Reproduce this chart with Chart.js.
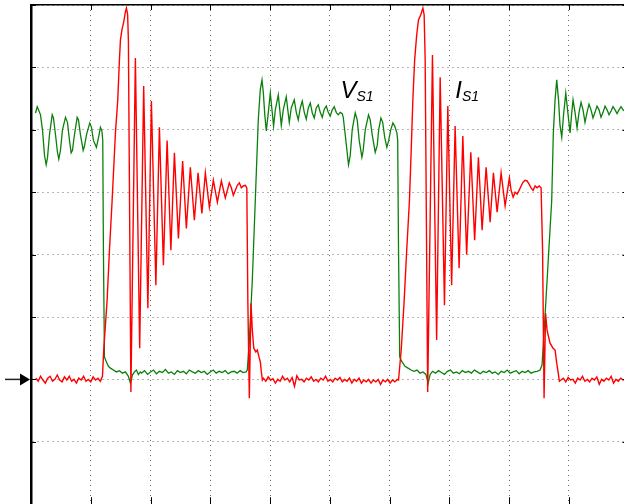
<!DOCTYPE html>
<html>
<head>
<meta charset="utf-8">
<script src="https://cdn.jsdelivr.net/npm/chart.js@4/dist/chart.umd.min.js"></script>
<style>
html,body{margin:0;padding:0;overflow:hidden;background:#fff;width:624px;height:504px;}
#wrap{position:absolute;left:0;top:0;width:640px;height:520px;}
</style>
</head>
<body>
<div id="wrap"><canvas id="c"></canvas></div>
<script>
// time in divisions (0..10), amplitude in divisions (-2..6), zero level at 0
const xGridTicks = [0,1,2,3,4,5,6,7,8,9,10];
const yGridTicks = [-2,-1,0,1,2,3,4,5,6];

// V_S1 (green)
const vS1 = [
[0.075,4.27],[0.104,4.37],[0.125,4.32],[0.159,4.24],[0.192,4.00],[0.226,3.59],[0.254,3.44],[0.276,3.55],[0.309,3.92],[0.355,4.24],[0.376,4.19],[0.410,3.92],[0.443,3.64],[0.465,3.53],[0.493,3.67],[0.527,4.00],[0.577,4.20],[0.610,4.12],[0.644,3.83],[0.672,3.63],[0.694,3.67],[0.727,3.92],[0.773,4.20],[0.794,4.16],[0.828,3.92],[0.873,3.67],[0.895,3.74],[0.928,3.92],[0.983,4.11],[1.012,4.04],[1.045,3.83],[1.095,3.72],[1.129,3.87],[1.162,4.04],[1.187,3.98],[1.201,3.83],[1.212,2.07],[1.229,0.36],
[1.262,0.28],[1.296,0.21],[1.329,0.18],[1.380,0.15],[1.430,0.12],[1.480,0.14],[1.530,0.10],[1.580,0.12],[1.630,0.05],[1.664,-0.06],[1.697,0.07],[1.731,0.12],[1.764,0.15],[1.798,0.08],[1.831,0.12],
[1.85,0.10],[1.90,0.14],[1.95,0.08],[2.00,0.12],[2.05,0.15],[2.10,0.09],[2.15,0.13],[2.20,0.11],[2.25,0.16],[2.30,0.10],[2.35,0.12],[2.40,0.08],[2.45,0.14],[2.50,0.11],[2.55,0.13],[2.60,0.09],[2.65,0.15],[2.70,0.12],[2.75,0.10],[2.80,0.14],[2.85,0.11],[2.90,0.13],[2.95,0.08],[3.00,0.12],[3.05,0.15],[3.10,0.10],[3.15,0.13],[3.20,0.11],[3.25,0.14],[3.30,0.09],[3.35,0.12],[3.40,0.13],[3.45,0.10],[3.50,0.14],[3.55,0.11],[3.60,0.12],
[3.620,0.15],[3.654,0.63],[3.704,1.59],[3.754,2.87],[3.804,4.16],[3.837,4.64],[3.866,4.80],[3.888,4.60],[3.913,4.24],[3.938,3.98],[3.972,4.28],[4.005,4.59],[4.030,4.35],[4.060,4.06],[4.089,4.32],[4.139,4.56],[4.164,4.32],[4.189,4.07],[4.222,4.32],[4.272,4.53],[4.298,4.32],[4.323,4.12],[4.356,4.35],[4.406,4.48],[4.440,4.28],[4.473,4.16],[4.507,4.35],[4.540,4.46],[4.574,4.28],[4.607,4.17],[4.641,4.35],[4.674,4.43],[4.708,4.27],[4.741,4.19],[4.774,4.35],[4.808,4.40],[4.841,4.28],[4.875,4.20],[4.908,4.33],[4.942,4.38],[4.975,4.28],[5.008,4.22],[5.042,4.32],[5.075,4.37],[5.109,4.28],[5.142,4.24],[5.176,4.28],[5.209,4.26],[5.226,4.20],
[5.259,3.92],[5.314,3.44],[5.343,3.59],[5.376,4.00],[5.426,4.27],[5.460,4.16],[5.493,3.83],[5.538,3.56],[5.560,3.67],[5.594,4.00],[5.649,4.24],[5.677,4.16],[5.711,3.92],[5.761,3.64],[5.795,3.75],[5.819,4.00],[5.856,4.19],[5.886,4.12],[5.920,3.88],[5.956,3.72],[5.987,3.83],[6.020,4.00],[6.057,4.11],[6.087,4.06],[6.124,3.95],[6.137,3.83],[6.151,2.07],[6.171,0.36],
[6.21,0.28],[6.26,0.21],[6.31,0.18],[6.36,0.15],[6.41,0.13],[6.46,0.15],[6.51,0.10],[6.56,0.12],[6.61,0.08],[6.647,-0.06],[6.68,0.08],[6.72,0.13],
[6.77,0.10],[6.82,0.14],[6.87,0.11],[6.92,0.08],[6.97,0.13],[7.02,0.15],[7.07,0.10],[7.12,0.12],[7.17,0.09],[7.22,0.14],[7.27,0.11],[7.32,0.13],[7.37,0.10],[7.42,0.15],[7.47,0.12],[7.52,0.09],[7.57,0.13],[7.62,0.11],[7.67,0.14],[7.72,0.10],[7.77,0.12],[7.82,0.08],[7.87,0.13],[7.92,0.11],[7.97,0.15],[8.02,0.10],[8.07,0.12],[8.12,0.14],[8.17,0.09],[8.22,0.13],[8.27,0.11],[8.32,0.14],[8.37,0.10],[8.42,0.12],[8.47,0.13],[8.52,0.15],
[8.553,0.23],[8.587,0.76],[8.654,1.86],[8.715,2.87],[8.742,3.95],[8.771,4.48],[8.799,4.80],[8.829,4.48],[8.854,4.07],[8.883,3.88],[8.913,4.24],[8.950,4.59],[8.980,4.32],[9.022,3.95],[9.047,4.24],[9.072,4.48],[9.105,4.28],[9.139,4.03],[9.172,4.28],[9.206,4.44],[9.239,4.32],[9.272,4.12],[9.306,4.28],[9.339,4.41],[9.373,4.32],[9.406,4.19],[9.440,4.28],[9.473,4.38],[9.507,4.32],[9.540,4.20],[9.574,4.28],[9.607,4.38],[9.641,4.32],[9.674,4.24],[9.708,4.30],[9.741,4.37],[9.775,4.32],[9.808,4.26],[9.841,4.32],[9.875,4.37],[9.908,4.32],[9.958,4.28]
];

// I_S1 (red)
const iS1 = [
[0.08,0.02],[0.12,-0.03],[0.16,0.05],[0.20,-0.01],[0.24,-0.06],[0.28,0.02],[0.32,0.05],[0.36,-0.03],[0.40,0.00],[0.44,0.07],[0.48,-0.01],[0.52,-0.04],[0.56,0.04],[0.60,-0.01],[0.64,0.05],[0.68,-0.03],[0.72,0.00],[0.76,-0.06],[0.80,0.02],[0.84,-0.01],[0.88,0.05],[0.92,-0.03],[0.96,0.00],[1.00,-0.04],[1.04,0.04],[1.08,-0.01],[1.12,0.02],[1.16,-0.03],
[1.196,0.05],[1.217,0.47],[1.274,1.27],[1.313,2.07],[1.358,2.87],[1.413,3.95],[1.452,4.48],[1.480,5.12],[1.497,5.44],[1.522,5.60],[1.552,5.73],[1.580,5.89],[1.597,5.95],[1.617,5.85],[1.630,5.44],
[1.672,-0.20],[1.747,5.15],[1.819,0.50],[1.886,4.70],[1.956,1.14],[2.015,4.46],[2.090,1.51],[2.149,4.04],[2.216,1.83],[2.278,3.83],[2.341,2.07],[2.400,3.63],[2.467,2.26],[2.538,3.50],[2.600,2.42],[2.667,3.40],[2.734,2.55],[2.796,3.31],[2.860,2.66],[2.918,3.31],[2.985,2.76],[3.052,3.19],[3.119,2.84],[3.186,3.18],[3.252,2.91],[3.319,3.15],
[3.353,3.07],[3.386,2.95],[3.420,3.03],[3.453,3.11],[3.487,3.15],[3.520,3.07],[3.553,3.10],[3.587,3.11],[3.612,3.07],[3.629,1.27],[3.654,-0.30],[3.682,1.22],[3.704,0.79],[3.729,0.50],[3.763,0.44],[3.788,0.47],[3.813,0.37],[3.838,0.28],[3.855,0.12],[3.872,-0.01],
[3.89,0.02],[3.93,-0.03],[3.97,0.04],[4.01,-0.01],[4.05,0.01],[4.09,-0.06],[4.13,0.00],[4.17,-0.03],[4.21,0.05],[4.25,-0.01],[4.29,0.02],[4.33,-0.04],[4.37,0.03],[4.41,-0.11],[4.45,0.06],[4.49,-0.01],[4.53,0.00],[4.57,-0.04],[4.61,0.02],[4.65,-0.01],[4.69,0.04],[4.73,-0.03],[4.77,0.00],[4.81,-0.04],[4.85,0.02],[4.89,-0.01],[4.93,0.05],[4.97,-0.03],[5.01,0.00],[5.05,-0.04],[5.09,0.02],[5.13,-0.01],[5.17,0.03],[5.21,-0.04],[5.25,0.00],[5.29,-0.03],[5.33,0.02],[5.37,-0.06],[5.41,0.00],[5.45,-0.03],[5.49,0.02],[5.53,-0.06],[5.57,-0.01],[5.61,-0.04],[5.65,0.00],[5.69,-0.06],[5.73,-0.01],[5.77,-0.04],[5.81,0.00],[5.85,-0.08],[5.89,-0.01],[5.93,-0.04],[5.97,0.00],[6.01,-0.06],[6.05,-0.01],[6.09,-0.04],[6.13,0.00],
[6.151,-0.01],[6.196,0.47],[6.246,1.27],[6.288,2.07],[6.334,2.87],[6.363,3.67],[6.391,4.48],[6.421,5.12],[6.455,5.52],[6.485,5.76],[6.522,5.84],[6.559,5.95],[6.580,5.84],[6.597,5.12],
[6.639,-0.20],[6.719,5.20],[6.789,0.63],[6.848,4.84],[6.920,1.19],[6.976,4.38],[7.040,1.51],[7.098,4.06],[7.165,1.78],[7.227,3.90],[7.291,2.00],[7.361,3.64],[7.425,2.23],[7.488,3.56],[7.550,2.39],[7.617,3.40],[7.684,2.52],[7.739,3.31],[7.801,2.68],[7.868,3.31],[7.935,2.78],[8.007,3.23],
[8.035,3.03],[8.069,2.92],[8.102,3.00],[8.136,2.97],[8.169,3.03],[8.202,3.10],[8.236,3.16],[8.269,3.19],[8.303,3.18],[8.336,3.13],[8.370,3.07],[8.403,3.03],[8.437,3.10],[8.470,3.07],[8.504,3.10],[8.537,3.07],[8.562,2.07],[8.587,-0.30],[8.612,1.06],[8.637,0.79],[8.687,0.58],[8.737,0.50],[8.771,0.47],[8.799,0.26],[8.821,0.12],[8.843,-0.03],
[8.87,-0.01],[8.91,0.02],[8.95,-0.04],[8.99,0.03],[9.03,-0.01],[9.07,0.00],[9.11,-0.06],[9.15,0.02],[9.19,-0.01],[9.23,0.05],[9.27,-0.03],[9.31,0.00],[9.35,-0.04],[9.39,0.02],[9.43,-0.01],[9.47,0.04],[9.51,-0.08],[9.55,0.00],[9.59,-0.03],[9.63,0.02],[9.67,-0.01],[9.71,0.05],[9.75,-0.06],[9.79,0.00],[9.83,-0.03],[9.87,0.02],[9.91,-0.01],[9.95,0.00]
];

const traceLabels = [
  {main: 'V', sub: 'S1', x: 5.18, y: 4.51},
  {main: 'I', sub: 'S1', x: 7.10, y: 4.51}
];

const toXY = arr => arr.map(p => ({x: p[0], y: p[1]}));

const decorPlugin = {
  id: 'decor',
  afterDraw(chart) {
    const ctx = chart.ctx;
    const xs = chart.scales.x, ys = chart.scales.y;
    const a = chart.chartArea;
    ctx.save();
    // inner tick marks
    ctx.strokeStyle = '#000';
    ctx.lineWidth = 1;
    ctx.beginPath();
    yGridTicks.forEach(v => {
      const py = Math.round(ys.getPixelForValue(v)) + 0.5;
      ctx.moveTo(a.left, py); ctx.lineTo(a.left + 5, py);
      ctx.moveTo(a.right - 6, py); ctx.lineTo(a.right, py);
    });
    xGridTicks.forEach(v => {
      const px = Math.round(xs.getPixelForValue(v)) + 0.5;
      ctx.moveTo(px, a.top); ctx.lineTo(px, a.top + 5);
      ctx.moveTo(px, a.bottom - 7); ctx.lineTo(px, a.bottom);
    });
    ctx.stroke();
    // zero-level arrow marker
    const y0 = ys.getPixelForValue(0);
    ctx.strokeStyle = '#222';
    ctx.lineWidth = 1.5;
    ctx.beginPath();
    ctx.moveTo(5, y0); ctx.lineTo(a.left - 8, y0);
    ctx.stroke();
    ctx.fillStyle = '#000';
    ctx.beginPath();
    ctx.moveTo(a.left - 1, y0);
    ctx.lineTo(a.left - 11, y0 - 6);
    ctx.lineTo(a.left - 11, y0 + 6);
    ctx.closePath();
    ctx.fill();
    // trace labels
    ctx.fillStyle = '#000';
    ctx.textBaseline = 'alphabetic';
    traceLabels.forEach(l => {
      const px = xs.getPixelForValue(l.x), py = ys.getPixelForValue(l.y);
      ctx.font = 'italic 24px "Liberation Sans", Arial, sans-serif';
      ctx.fillText(l.main, px, py);
      const w = ctx.measureText(l.main).width;
      ctx.font = 'italic 14px "Liberation Sans", Arial, sans-serif';
      ctx.fillText(l.sub, px + w, py + 3);
    });
    ctx.restore();
  }
};

const gridColor = 'rgba(60,60,60,0.75)';
const zeroW = s => { s.width = 0; };
const zeroH = s => { s.height = 0; };

new Chart(document.getElementById('c'), {
  type: 'scatter',
  data: {
    datasets: [
      {label: 'I_S1', data: toXY(iS1), showLine: true, borderColor: '#ff0000', borderWidth: 1.4, pointRadius: 0, tension: 0, order: 0},
      {label: 'V_S1', data: toXY(vS1), showLine: true, borderColor: '#0a800a', borderWidth: 1.3, pointRadius: 0, tension: 0, order: 1}
    ]
  },
  options: {
    responsive: true,
    maintainAspectRatio: false,
    animation: false,
    devicePixelRatio: 1,
    layout: {padding: {left: 31, top: 5, right: 11.5, bottom: 15.8}},
    plugins: {legend: {display: false}, tooltip: {enabled: false}},
    scales: {
      x: {
        type: 'linear', position: 'bottom', min: 0, max: 10,
        afterBuildTicks: s => { s.ticks = xGridTicks.map(v => ({value: v})); },
        ticks: {display: false},
        grid: {color: gridColor, lineWidth: 1, drawTicks: false},
        border: {display: false, dash: [1, 4]},
        afterFit: zeroH
      },
      xTop: {
        type: 'linear', position: 'top', min: 0, max: 10,
        ticks: {display: false},
        grid: {display: false, drawTicks: false},
        border: {display: true, color: '#000', width: 1.5},
        afterFit: zeroH
      },
      y: {
        type: 'linear', position: 'left', min: -2, max: 6,
        afterBuildTicks: s => { s.ticks = yGridTicks.map(v => ({value: v})); },
        ticks: {display: false},
        grid: {color: gridColor, lineWidth: 1, drawTicks: false},
        border: {display: true, color: '#000', width: 2.5, dash: [1, 4]},
        afterFit: zeroW
      },
      yRight: {
        type: 'linear', position: 'right', min: -2, max: 6,
        ticks: {display: false},
        grid: {display: false, drawTicks: false},
        border: {display: true, color: '#000', width: 1.5},
        afterFit: zeroW
      }
    }
  },
  plugins: [decorPlugin]
});
</script>
</body>
</html>
